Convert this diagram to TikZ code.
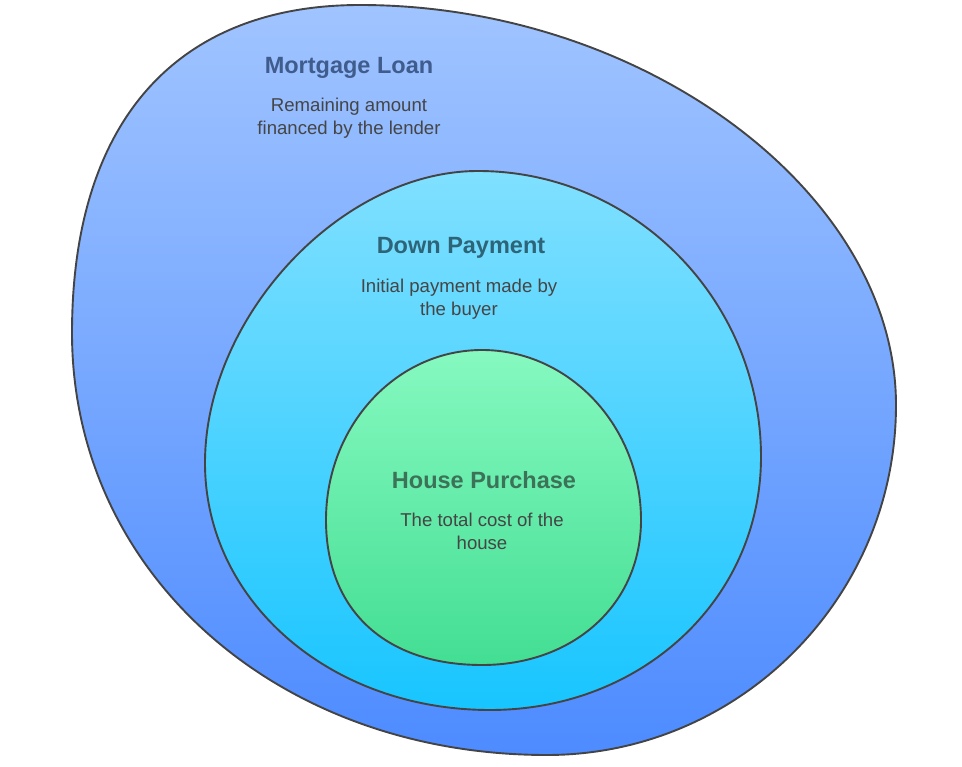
\documentclass[tikz,border=0pt]{standalone}
\usepackage{fontspec}
\setmainfont{Liberation Sans}
\definecolor{outerTop}{HTML}{A0C4FF}
\definecolor{outerBot}{HTML}{4D8BFF}
\definecolor{midTop}{HTML}{80E0FF}
\definecolor{midBot}{HTML}{18C5FF}
\definecolor{innTop}{HTML}{86F9C0}
\definecolor{innBot}{HTML}{43DE93}
\definecolor{edge}{HTML}{444444}
\definecolor{tOuter}{HTML}{3F5C8C}
\definecolor{tMid}{HTML}{2D6478}
\definecolor{tInn}{HTML}{3C7258}
\definecolor{bodyc}{HTML}{454545}
\tikzset{
  blob/.style={draw=edge, line width=1.9pt},
  ttl/.style={font=\fontsize{23.5}{28}\selectfont\bfseries, inner sep=0pt, anchor=center},
  bdy/.style={font=\fontsize{18.6}{23}\selectfont, text=bodyc, align=center, inner sep=0pt, anchor=center}
}
\begin{document}
\begin{tikzpicture}[x=1pt,y=-1pt]
\useasboundingbox (0,0) rectangle (962,767);
% outer blob
\path[blob, top color=outerTop, bottom color=outerBot]
  (360,5) .. controls (644,5) and (896,193) .. (896,405)
          .. controls (896,598) and (739,755) .. (547,755)
          .. controls (276,755) and (72,572) .. (72,333)
          .. controls (72,122) and (176,5) .. (360,5) -- cycle;
% middle blob
\path[blob, top color=midTop, bottom color=midBot]
  (478,171) .. controls (634,171) and (761,300) .. (761,457)
            .. controls (761,599) and (642,710) .. (490,710)
            .. controls (330,710) and (205,601) .. (205,463)
            .. controls (205,317) and (341,171) .. (478,171) -- cycle;
% inner blob
\path[blob, top color=innTop, bottom color=innBot]
  (482,350) .. controls (569,350) and (641,426) .. (641,520)
            .. controls (641,604) and (574,665) .. (482,665)
            .. controls (385,665) and (326,610) .. (326,520)
            .. controls (326,426) and (396,350) .. (482,350) -- cycle;
% texts
\node[ttl, text=tOuter] (mlT) at (349,68) {Mortgage Loan};
\node[bdy] (mlB) at (349,118.5) {Remaining amount\\financed by the lender};
\node[ttl, text=tMid] (dpT) at (461,248) {Down Payment};
\node[bdy] (dpB) at (459,299.5) {Initial payment made by\\the buyer};
\node[ttl, text=tInn] (hpT) at (484,480) {House Purchase};
\node[bdy] (hpB) at (482,531.5) {The total cost of the\\house};
\end{tikzpicture}
\end{document}
